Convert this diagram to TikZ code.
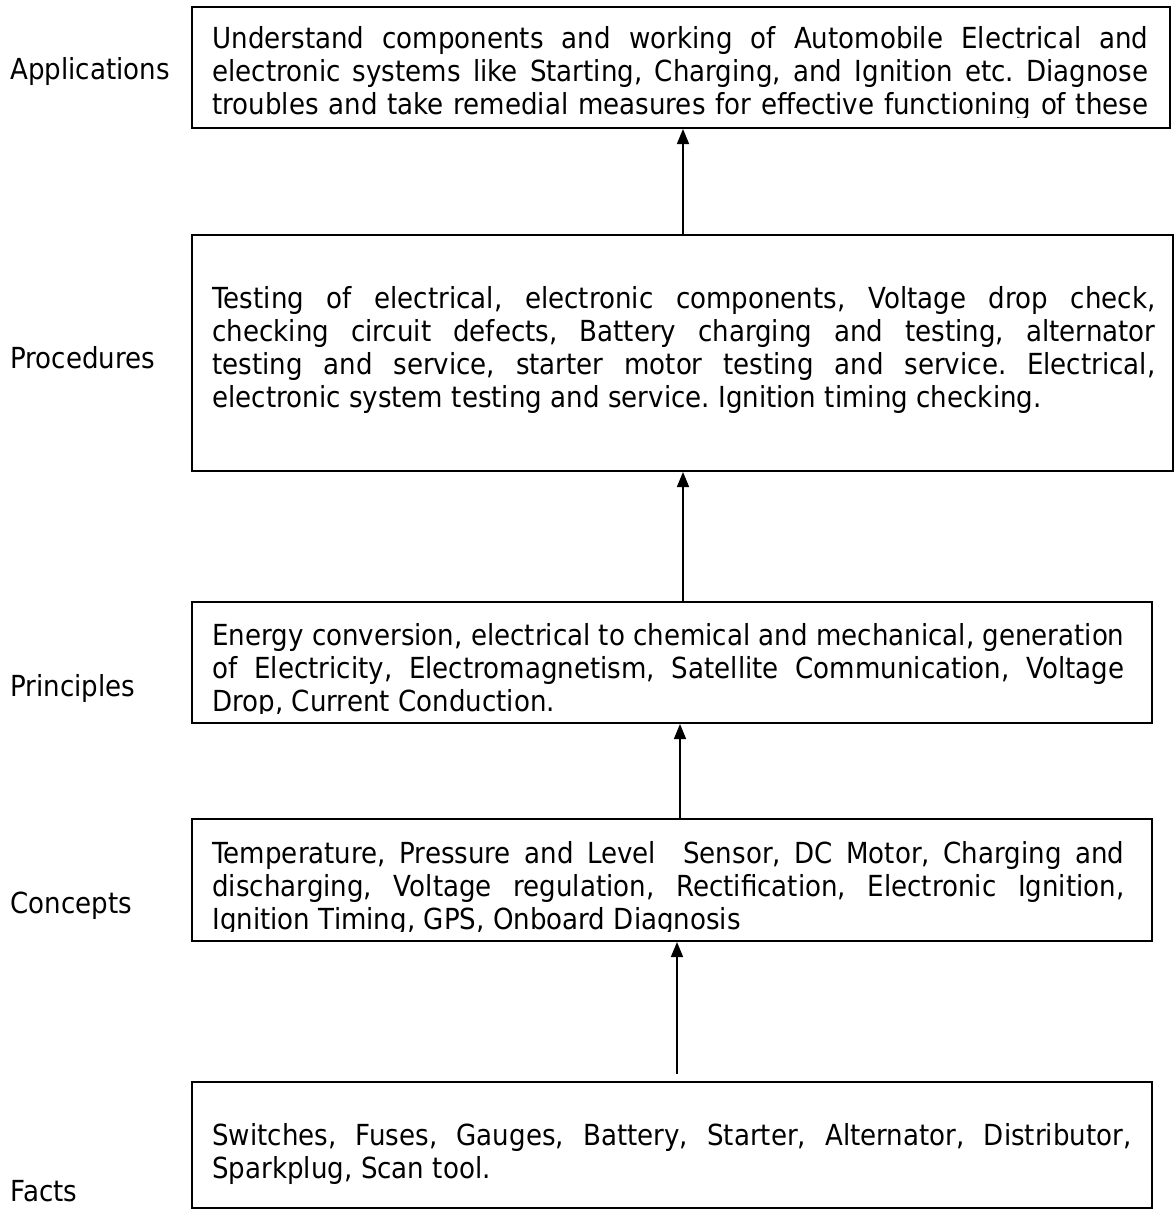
\documentclass[tikz,border=0pt]{standalone}
\usepackage{fontspec}
\setmainfont{DejaVu Sans}[FakeStretch=0.9]
\usetikzlibrary{arrows.meta,fit}
\newcommand\txtsize{\fontsize{14.5pt}{16.5pt}\selectfont}
\newcommand\jl[1]{\hbox to\hsize{#1}}
\newcommand\nl[1]{\hbox{#1}}
\newcommand\blk[2]{\vtop{\hsize=#1\relax\baselineskip=16.5pt\lineskiplimit=-100pt\spaceskip=.29em plus 1fil minus .08em\frenchspacing #2}}
\tikzset{
  box/.style={draw, line width=1pt, inner sep=0pt, rectangle},
  lab/.style={anchor=base west, inner sep=0pt, font=\txtsize},
  txt/.style={anchor=base west, inner sep=0pt, font=\txtsize},
  arr/.style={-{Triangle[width=6pt,length=7.5pt]}, line width=0.8pt}
}
\begin{document}
\begin{tikzpicture}[x=0.5pt,y=-0.5pt]
\useasboundingbox[fill=white] (0,0) rectangle (1175,1211);
% boxes
\node[box, fit={(192,7) (1170,128)}] (app) {};
\node[box, fit={(192,235) (1173,471)}] (proc) {};
\node[box, fit={(192,602) (1152,723)}] (prin) {};
\node[box, fit={(192,819) (1152,941)}] (conc) {};
\node[box, fit={(192,1082) (1152,1208)}] (fact) {};
% labels
\node[lab] (lapp) at (10,79) {Applications};
\node[lab] (lproc) at (10,368) {Procedures};
\node[lab] (lprin) at (10,696) {Principles};
\node[lab] (lconc) at (10,913) {Concepts};
\node[lab] (lfact) at (10,1201) {Facts};
% texts
\begin{scope}
\clip (192,7) rectangle (1170,117);
\node[txt] (tapp) at (212,48) {\blk{468pt}{%
\jl{Understand components and working of Automobile Electrical and}
\jl{electronic systems like Starting, Charging, and Ignition etc. Diagnose}
\jl{troubles and take remedial measures for effective functioning of these}}};
\end{scope}
\node[txt] (tproc) at (212,308) {\blk{471.5pt}{%
\jl{Testing of electrical, electronic components, Voltage drop check,}
\jl{checking circuit defects, Battery charging and testing, alternator}
\jl{testing and service, starter motor testing and service. Electrical,}
\nl{electronic system testing and service. Ignition timing checking.}}};
\begin{scope}
\clip (192,602) rectangle (1152,713);
\node[txt] (tprin) at (212,645) {\blk{456pt}{%
\jl{Energy conversion, electrical to chemical and mechanical, generation}
\jl{of Electricity, Electromagnetism, Satellite Communication, Voltage}
\nl{Drop, Current Conduction.}}};
\end{scope}
\begin{scope}
\clip (192,819) rectangle (1152,931);
\node[txt] (tconc) at (212,863) {\blk{456pt}{%
\jl{Temperature, Pressure and Level\ \ Sensor, DC Motor, Charging and}
\jl{discharging, Voltage regulation, Rectification, Electronic Ignition,}
\nl{Ignition Timing, GPS, Onboard Diagnosis}}};
\end{scope}
\node[txt] (tfact) at (212,1145) {\blk{459.5pt}{%
\jl{Switches, Fuses, Gauges, Battery, Starter, Alternator, Distributor,}
\nl{Sparkplug, Scan tool.}}};
% arrows
\coordinate (a1) at (683,0);
\coordinate (a2) at (683,0);
\coordinate (a3) at (680,0);
\coordinate (a4) at (677,0);
\draw[arr] (proc.north -| a1) -- (app.south -| a1);
\draw[arr] (prin.north -| a2) -- (proc.south -| a2);
\draw[arr] (conc.north -| a3) -- (prin.south -| a3);
\draw[arr, shorten <=3.5pt] (fact.north -| a4) -- (conc.south -| a4);
\end{tikzpicture}
\end{document}
